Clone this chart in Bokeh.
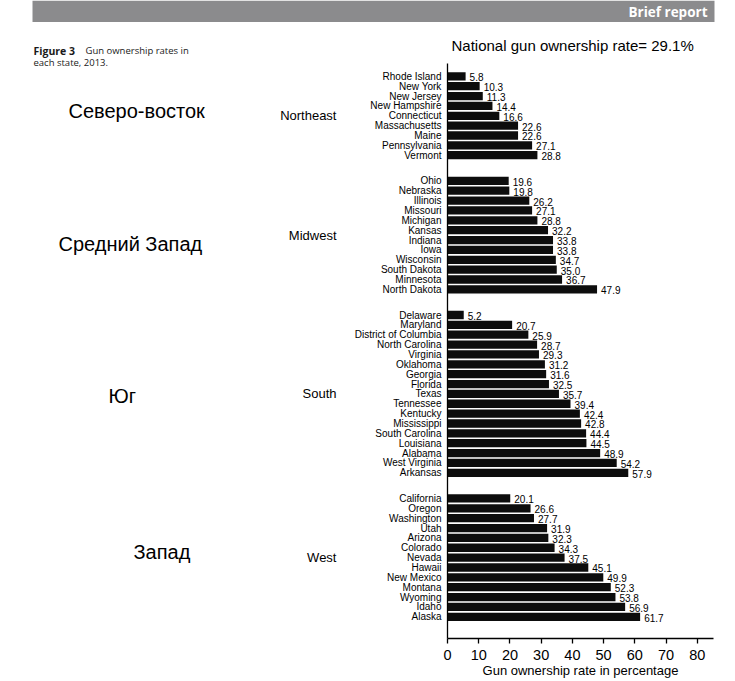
from bokeh.plotting import figure
from bokeh.models import Range1d, FixedTicker, LinearAxis, ColumnDataSource, Title
from bokeh.layouts import column, row
from bokeh.core.properties import value
from bokeh.embed import file_html
from bokeh.resources import INLINE

# ---------------- data ----------------
regions = ["Northeast", "Midwest", "South", "West"]
regions_ru = ["Северо-восток", "Средний Запад", "Юг", "Запад"]

northeast_states = ["Rhode Island", "New York", "New Jersey", "New Hampshire", "Connecticut",
                    "Massachusetts", "Maine", "Pennsylvania", "Vermont"]
northeast_rates = [5.8, 10.3, 11.3, 14.4, 16.6, 22.6, 22.6, 27.1, 28.8]

midwest_states = ["Ohio", "Nebraska", "Illinois", "Missouri", "Michigan", "Kansas", "Indiana",
                  "Iowa", "Wisconsin", "South Dakota", "Minnesota", "North Dakota"]
midwest_rates = [19.6, 19.8, 26.2, 27.1, 28.8, 32.2, 33.8, 33.8, 34.7, 35.0, 36.7, 47.9]

south_states = ["Delaware", "Maryland", "District of Columbia", "North Carolina", "Virginia",
                "Oklahoma", "Georgia", "Florida", "Texas", "Tennessee", "Kentucky", "Mississippi",
                "South Carolina", "Louisiana", "Alabama", "West Virginia", "Arkansas"]
south_rates = [5.2, 20.7, 25.9, 28.7, 29.3, 31.2, 31.6, 32.5, 35.7, 39.4, 42.4, 42.8, 44.4,
               44.5, 48.9, 54.2, 57.9]

west_states = ["California", "Oregon", "Washington", "Utah", "Arizona", "Colorado", "Nevada",
               "Hawaii", "New Mexico", "Montana", "Wyoming", "Idaho", "Alaska"]
west_rates = [20.1, 26.6, 27.7, 31.9, 32.3, 34.3, 37.5, 45.1, 49.9, 52.3, 53.8, 56.9, 61.7]

national_rate = 29.1
x_ticks = [0, 10, 20, 30, 40, 50, 60, 70, 80]

# ---------------- row positions (from index order) ----------------
ROW = 10     # units per row
GAP = 16     # extra units between regions
state_groups = [northeast_states, midwest_states, south_states, west_states]
rate_groups = [northeast_rates, midwest_rates, south_rates, west_rates]

states, rates, pos, group_centers = [], [], [], []
for g, (sts, rts) in enumerate(zip(state_groups, rate_groups)):
    n0 = len(states)
    ps = [ROW * (n0 + i) + GAP * g for i in range(len(sts))]
    states += sts
    rates += rts
    pos += ps
    group_centers.append((ps[0] + ps[-1]) // 2)

src = ColumnDataSource(dict(pos=pos, rate=rates, state=states,
                            label=[f"{r:.1f}" for r in rates]))

FONT = "Liberation Sans"


def blank(w, h, xr, yr):
    f = figure(width=w, height=h, x_range=xr, y_range=yr, min_border=0,
               x_axis_location=None, y_axis_location=None,
               toolbar_location=None, output_backend="svg")
    f.outline_line_color = None
    f.grid.visible = False
    f.background_fill_color = "white"
    f.border_fill_color = "white"
    return f


# ---------------- header strip ----------------
header = blank(735, 22, Range1d(0, 735), Range1d(22, 0))
header.quad(left=[32], right=[714], top=[0], bottom=[22],
            fill_color="#8b8b8d", line_color=None)
header.text(x=[707], y=[11], text=["Brief report"], text_align="right",
            text_baseline="middle", text_font=value("Open Sans"),
            text_font_style="bold", text_font_size="13.5px", text_color="white")

# ---------------- left panel: caption and Russian notes ----------------
left = blank(240, 659, Range1d(0, 240), Range1d(681, 22))
left.text(x=[33], y=[50], text=["Figure 3"], text_baseline="middle",
          text_font=value("Open Sans"), text_font_style="bold",
          text_font_size="10.5px", text_color="#1a1a1a")
left.text(x=[85, 33], y=[50, 62], text=["Gun ownership rates in", "each state, 2013."],
          text_baseline="middle", text_font=value("Open Sans"),
          text_font_size="9.5px", text_color="#1a1a1a")
left.text(x=[68, 58, 108, 133], y=[110, 243, 395, 551], text=regions_ru,
          text_baseline="middle", text_font=value(FONT), text_font_size="20px",
          text_color="black")

# ---------------- main chart ----------------
p = figure(width=495, height=659,
           x_range=Range1d(0, 85.2),
           y_range=Range1d(start=pos[-1] + 2.2 * ROW, end=pos[0] - 1.3 * ROW),
           output_backend="svg", toolbar_location=None,
           min_border_left=207, min_border_right=22,
           min_border_top=41, min_border_bottom=43)
p.outline_line_color = None
p.grid.visible = False
p.background_fill_color = "white"
p.border_fill_color = "white"

p.title = Title(text=f"National gun ownership rate= {national_rate}%", align="left",
                offset=4, standoff=20, text_font=FONT, text_font_size="15px",
                text_font_style="normal", text_color="black")

# x axis
xa = p.xaxis[0]
xa.ticker = FixedTicker(ticks=x_ticks)
xa.minor_tick_line_color = None
xa.major_tick_in = 0
xa.major_tick_out = 5
xa.axis_line_width = 1.3
xa.major_tick_line_width = 1.3
xa.axis_line_color = "black"
xa.major_tick_line_color = "black"
xa.major_label_text_font = FONT
xa.major_label_text_font_size = "14.5px"
xa.major_label_text_color = "black"
xa.major_label_standoff = 6
xa.axis_label = "Gun ownership rate in percentage"
xa.axis_label_text_font = FONT
xa.axis_label_text_font_size = "13px"
xa.axis_label_text_font_style = "normal"
xa.axis_label_text_color = "black"
xa.axis_label_standoff = 0

# y axis (states)
ya = p.yaxis[0]
ya.ticker = FixedTicker(ticks=pos)
ya.major_label_overrides = {pp: s for pp, s in zip(pos, states)}
ya.major_tick_line_color = None
ya.minor_tick_line_color = None
ya.major_tick_in = 0
ya.major_tick_out = 0
ya.axis_line_width = 1.3
ya.axis_line_color = "black"
ya.major_label_text_font = FONT
ya.major_label_text_font_size = "10px"
ya.major_label_text_color = "black"
ya.major_label_standoff = 6

# outer y axis (regions)
ra = LinearAxis(ticker=FixedTicker(ticks=group_centers),
                major_label_overrides={c: r for c, r in zip(group_centers, regions)},
                axis_line_color=None, major_tick_line_color=None,
                minor_tick_line_color=None, major_tick_in=0, major_tick_out=0,
                major_label_standoff=15, major_label_text_font=FONT,
                major_label_text_font_size="13px", major_label_text_color="black")
p.add_layout(ra, "left")

# bars and values
p.hbar(y="pos", left=0, right="rate", height=0.84 * ROW, source=src,
       fill_color="#0d0d0d", line_color=None)
p.text(x="rate", y="pos", text="label", source=src, x_offset=4, y_offset=1,
       text_font=value(FONT), text_font_size="10px", text_baseline="middle",
       text_color="black")

layout = column(header, row(column(left), p))
open("out.html", "w").write(file_html(layout, INLINE))
